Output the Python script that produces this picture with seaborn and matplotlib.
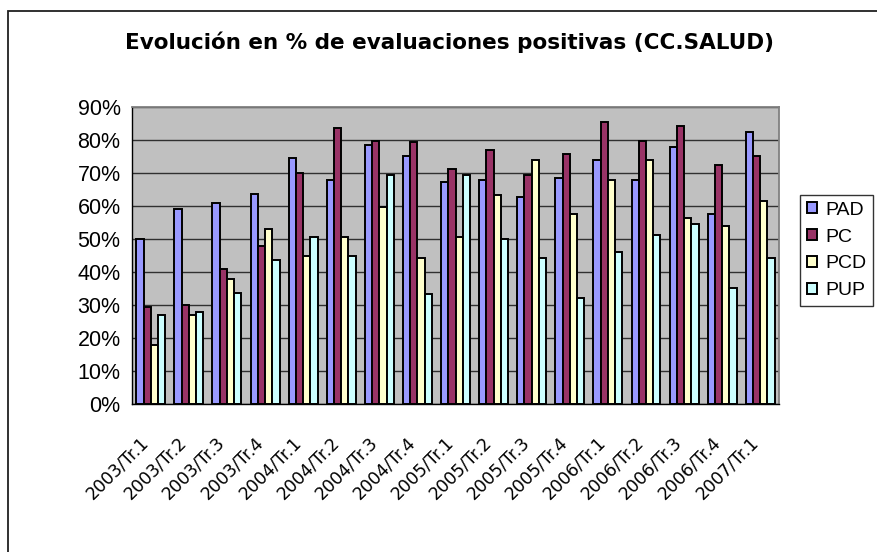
import numpy as np
import pandas as pd
import matplotlib
matplotlib.use("Agg")
import matplotlib.pyplot as plt
import matplotlib.transforms as mtransforms
from matplotlib.patches import Rectangle
from matplotlib.ticker import FuncFormatter
import seaborn as sns

# data (% positive evaluations)
periodos = ["2003/Tr.1", "2003/Tr.2", "2003/Tr.3", "2003/Tr.4",
            "2004/Tr.1", "2004/Tr.2", "2004/Tr.3", "2004/Tr.4",
            "2005/Tr.1", "2005/Tr.2", "2005/Tr.3", "2005/Tr.4",
            "2006/Tr.1", "2006/Tr.2", "2006/Tr.3", "2006/Tr.4",
            "2007/Tr.1"]
partidos = ["PAD", "PC", "PCD", "PUP"]
pad = [50.0, 59.2, 60.8, 63.7, 74.5, 67.7, 78.5, 75.1, 67.1, 67.7, 62.6, 68.3, 74.0, 67.7, 77.9, 57.4, 82.5]
pc = [29.5, 30.0, 40.8, 47.8, 69.9, 83.6, 79.7, 79.2, 71.2, 76.9, 69.4, 75.8, 85.4, 79.7, 84.3, 72.3, 75.1]
pcd = [18.0, 27.0, 38.0, 52.9, 44.9, 50.7, 59.8, 44.3, 50.7, 63.2, 74.0, 57.4, 67.7, 74.0, 56.3, 54.0, 61.5]
pup = [27.0, 27.8, 33.6, 43.6, 50.7, 44.9, 69.4, 33.5, 69.4, 50.1, 44.3, 32.2, 46.0, 51.1, 54.5, 35.2, 44.3]
colores = ["#9999FF", "#993366", "#FFFFCC", "#CCFFFF"]

# long format for seaborn
df = pd.DataFrame({
    "periodo": periodos * 4,
    "partido": sum([[p] * len(periodos) for p in partidos], []),
    "valor": pad + pc + pcd + pup,
})

sns.set_style("white")
plt.rcParams["font.family"] = ["Liberation Sans", "DejaVu Sans"]
plt.rcParams["text.color"] = "black"
plt.rcParams["xtick.color"] = "black"
plt.rcParams["ytick.color"] = "black"

fig = plt.figure(figsize=(8.77, 5.52), dpi=100)
ax = fig.add_axes([0.1502, 0.2676, 0.7384, 0.5391])
ax.set_facecolor("#C0C0C0")

sns.barplot(data=df, x="periodo", y="valor", hue="partido", order=periodos,
            hue_order=partidos, palette=colores, edgecolor="black",
            linewidth=1.4, width=0.76, saturation=1, ax=ax, zorder=3)

ax.set_ylim(0, 90)
ax.set_xlim(-0.5, len(periodos) - 0.5)
ax.set_yticks(np.arange(0, 91, 10))
ax.yaxis.set_major_formatter(FuncFormatter(lambda v, p: "%d%%" % v))
ax.grid(axis="y", color="#303030", linewidth=1.0, zorder=0)
ax.set_axisbelow(True)
ax.set_xlabel("")
ax.set_ylabel("")

# ticks between categories, labels at centres
ax.set_xticks(np.arange(-0.5, len(periodos), 1), minor=True)
ax.tick_params(axis="x", which="minor", length=5, width=1, color="black", direction="out")
ax.tick_params(axis="x", which="major", length=0, pad=21, labelcolor="black")
ax.tick_params(axis="y", length=5, width=1, color="black", direction="out", pad=3,
               labelsize=15.5, labelcolor="black")
ax.set_xticks(range(len(periodos)))
ax.set_xticklabels(periodos, rotation=45, ha="right", rotation_mode="anchor",
                   fontsize=12.5, family="DejaVu Sans")
shift = mtransforms.ScaledTranslation(-11 / 100, 0, fig.dpi_scale_trans)
for lab in ax.get_xticklabels():
    lab.set_transform(lab.get_transform() + shift)

for side in ["top", "right"]:
    ax.spines[side].set_color("#808080")
    ax.spines[side].set_linewidth(1.3)
for side in ["left", "bottom"]:
    ax.spines[side].set_color("black")
    ax.spines[side].set_linewidth(1.0)

# legend
handles, labels = ax.get_legend_handles_labels()
ax.get_legend().remove()
leg = fig.legend(handles, labels, loc="upper left",
                 bbox_to_anchor=(800 / 877, 1 - 195 / 552), borderaxespad=0,
                 fontsize=14, frameon=True, fancybox=False, handlelength=0.5,
                 handleheight=0.5, handletextpad=0.45, labelspacing=0.5,
                 borderpad=0.35)
leg.get_frame().set_edgecolor("black")
leg.get_frame().set_linewidth(1.0)

fig.text(0.513, 1 - 42 / 552, "Evolución en % de evaluaciones positivas (CC.SALUD)",
         ha="center", va="center", fontsize=15.5, fontweight="bold",
         family="DejaVu Sans", color="black")

# outer chart border
fig.patches.append(Rectangle((8 / 877, -0.1), 1.2, 1.08 - 11 / 552 + 0.02,
                             transform=fig.transFigure, fill=False,
                             edgecolor="#202020", linewidth=1.3))

fig.savefig("out.png", dpi=100)
